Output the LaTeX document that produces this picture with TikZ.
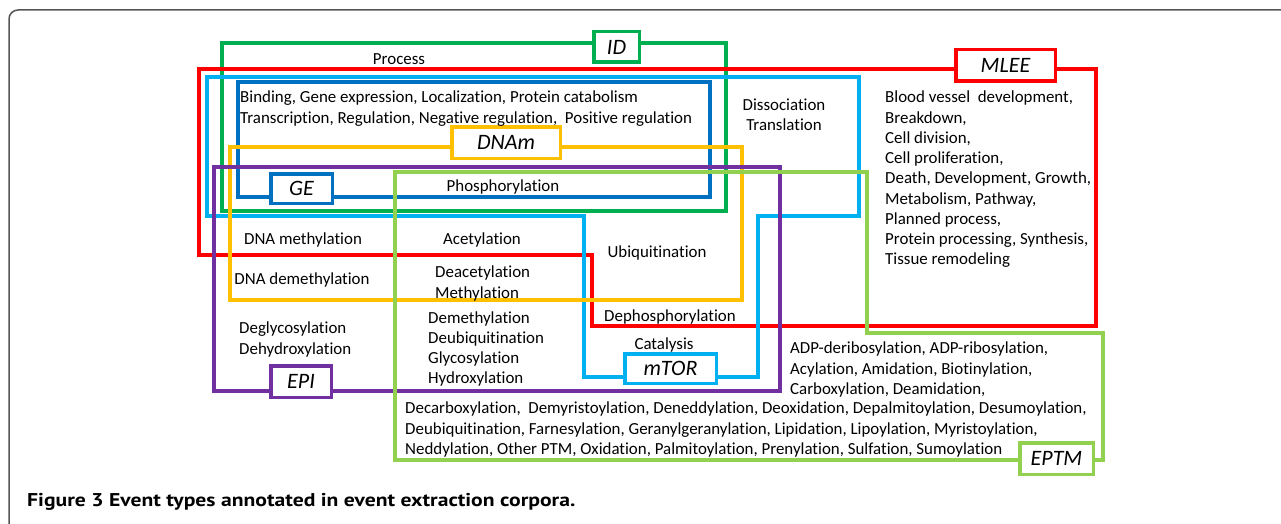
\documentclass[tikz,border=0pt]{standalone}
\usepackage{fontspec}
\setmainfont{Carlito}[Ligatures={NoCommon}]
\newfontfamily\capfont{PT Sans}
\definecolor{cID}{HTML}{00B050}
\definecolor{cMLEE}{HTML}{FF0000}
\definecolor{cMTOR}{HTML}{00B0F0}
\definecolor{cGE}{HTML}{0070C0}
\definecolor{cDNAM}{HTML}{FFC000}
\definecolor{cEPI}{HTML}{7030A0}
\definecolor{cEPTM}{HTML}{92D050}
\definecolor{frame}{HTML}{555555}
\begin{document}
\begin{tikzpicture}[x=1pt,y=-1pt,
  grp/.style={line width=3.5pt, line join=miter},
  lab/.style={line width=3.5pt, fill=white, text=black, inner sep=0pt,
    font=\fontsize{22}{24}\selectfont\itshape},
  txt/.style={font=\fontsize{16.9}{20.25}\selectfont, inner sep=0pt, align=left},
]
\useasboundingbox (0,0) rectangle (1281,524);
\clip (0,0) rectangle (1281,524);
\fill[white] (0,0) rectangle (1281,524);
% outer frame
\draw[frame, line width=1.5pt, rounded corners=9pt] (9,540) -- (9,10) -- (1300,10);

% groups
\draw[grp, cID] (222,43) rectangle (726,211);
\draw[grp, cMLEE] (199,69) -- (1096,69) -- (1096,326) -- (592,326) -- (592,255) -- (199,255) -- cycle;
\draw[grp, cMTOR] (207,77) -- (859,77) -- (859,216) -- (758,216) -- (758,377) -- (584,377) -- (584,216) -- (207,216) -- cycle;
\draw[grp, cGE] (238,82) rectangle (710,197);
\draw[grp, cDNAM] (230,147) rectangle (742,300);
\draw[grp, cEPI] (214,167) rectangle (780,391);
\draw[grp, cEPTM] (395,172) -- (867,172) -- (867,333) -- (1103,333) -- (1103,460) -- (395,460) -- cycle;

% label boxes
\node[lab, draw=cID, minimum width=45.5pt, minimum height=30.5pt] (lID) at (616.5,47) {ID};
\node[lab, draw=cMLEE, minimum width=99.5pt, minimum height=31.5pt] (lMLEE) at (1005.5,65.5) {MLEE};
\node[lab, draw=cGE, minimum width=61.5pt, minimum height=29.5pt] (lGE) at (301.5,188.5) {GE};
\node[lab, draw=cDNAM, minimum width=108.5pt, minimum height=31.5pt] (lDNAM) at (506,142.5) {DNAm};
\node[lab, draw=cMTOR, minimum width=91.5pt, minimum height=29.5pt] (lMTOR) at (670.5,368.5) {mTOR};
\node[lab, draw=cEPI, minimum width=60.5pt, minimum height=31.5pt] (lEPI) at (301,381.5) {EPI};
\node[lab, draw=cEPTM, minimum width=73.5pt, minimum height=31.5pt] (lEPTM) at (1056.5,458.5) {EPTM};

% texts
\node[txt] (tProcess) at (399,59) {Process};
\node[txt, anchor=west] (tGE) at (240,108.5) {Binding, Gene expression, Localization, Protein catabolism\\Transcription, Regulation, Negative regulation,\ \ Positive regulation};
\node[txt, align=center] (tDis) at (784,114.5) {Dissociation\\Translation};
\node[txt] (tPhos) at (503,187) {Phosphorylation};
\node[txt, anchor=west] (tMLEE) at (885,179.5) {Blood vessel\ \ development,\\Breakdown,\\Cell division,\\Cell proliferation,\\Death, Development, Growth,\\Metabolism, Pathway,\\Planned process,\\Protein processing, Synthesis,\\Tissue remodeling};
\node[txt] (tDNAm) at (303,240) {DNA methylation};
\node[txt] (tAcet) at (482,240) {Acetylation};
\node[txt] (tUbiq) at (657,253) {Ubiquitination};
\node[txt] (tDNAdm) at (302,280) {DNA demethylation};
\node[txt, anchor=west] (tDeac) at (435,283.5) {Deacetylation\\Methylation};
\node[txt] (tDephos) at (670,317) {Dephosphorylation};
\node[txt, anchor=west] (tDegly) at (239,339.5) {Deglycosylation\\Dehydroxylation};
\node[txt, anchor=west] (tDemeth) at (428,349) {Demethylation\\Deubiquitination\\Glycosylation\\Hydroxylation};
\node[txt] (tCat) at (664,345) {Catalysis};
\node[txt, anchor=west] (tADP) at (790,369.5) {ADP-deribosylation, ADP-ribosylation,\\Acylation, Amidation, Biotinylation,\\Carboxylation, Deamidation,};
\node[txt, anchor=west] (tDecarb) at (405,429.5) {Decarboxylation,\ \ Demyristoylation, Deneddylation, Deoxidation, Depalmitoylation, Desumoylation,\\Deubiquitination, Farnesylation, Geranylgeranylation, Lipidation, Lipoylation, Myristoylation,\\Neddylation, Other PTM, Oxidation, Palmitoylation, Prenylation, Sulfation, Sumoylation};

% caption
\node[anchor=west, inner sep=0pt, font=\capfont\fontsize{18.5}{20}\selectfont] (cap) at (27,502) {\scalebox{1.17}[1]{\bfseries Figure 3 Event types annotated in event extraction corpora.}};
\end{tikzpicture}
\end{document}
